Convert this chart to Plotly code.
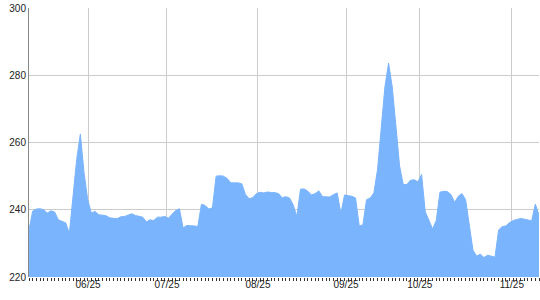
import plotly.graph_objects as go

values = [
    234.0, 239.6, 240.2, 240.3, 240.0, 239.0, 239.7, 239.3, 237.0, 236.6,
    236.1, 233.0, 245.0, 255.0, 262.5, 251.0, 243.0, 239.0, 239.5, 238.5,
    238.4, 238.2, 237.6, 237.4, 237.3, 237.9, 238.0, 238.4, 238.8, 238.3,
    238.0, 237.8, 236.4, 237.0, 236.8, 237.8, 237.8, 238.0, 237.5, 238.6,
    239.8, 240.3, 234.6, 235.3, 235.3, 235.2, 235.0, 241.6, 241.3, 240.2,
    240.6, 250.0, 250.1, 250.0, 249.3, 248.0, 248.0, 248.0, 247.7, 244.5,
    243.3, 243.6, 244.8, 245.2, 245.0, 245.3, 245.1, 245.1, 244.8, 243.6,
    243.9, 243.5, 241.5, 238.0, 246.1, 246.2, 245.5, 244.4, 244.8, 245.6,
    243.9, 243.8, 243.8, 244.5, 245.0, 238.9, 244.4, 244.2, 244.0, 243.5,
    235.2, 235.5, 243.0, 243.5, 245.0, 252.0, 264.0, 276.5, 283.6, 276.5,
    265.0, 253.0, 247.5, 247.5, 248.8, 248.9, 248.3, 250.5, 239.4, 237.0,
    234.3, 236.8, 245.2, 245.5, 245.4, 244.5, 242.2, 244.0, 244.8, 243.0,
    236.0, 228.0, 226.2, 226.8, 225.8, 226.5, 226.2, 225.9, 234.0, 235.0,
    235.2, 236.2, 236.8, 237.1, 237.4, 237.2, 237.0, 236.7, 241.7, 238.4,
]
idx = list(range(len(values)))

tick_pos = [16.1, 37.6, 62.4, 86.4, 106.5, 131.6]
tick_labels = ["06/25", "07/25", "08/25", "09/25", "10/25", "11/25"]
y_ticks = [220, 240, 260, 280, 300]

fig = go.Figure()
fig.add_trace(go.Scatter(
    x=idx, y=values, mode="lines", fill="tozeroy",
    line=dict(color="#7ab4fc", width=1),
    fillcolor="#7ab4fc", hoverinfo="skip",
))

fig.update_layout(
    width=540, height=300,
    margin=dict(l=29, r=1, t=8, b=23),
    paper_bgcolor="white", plot_bgcolor="white",
    showlegend=False,
    font=dict(family="Liberation Sans, Arial, sans-serif", size=10, color="#222"),
)
fig.update_xaxes(
    range=[0, len(values) - 1],
    tickvals=tick_pos, ticktext=tick_labels,
    showgrid=True, gridcolor="#cccccc", gridwidth=1,
    ticks="", zeroline=False, showline=False,
    minor=dict(dtick=1, tick0=0, ticks="outside", ticklen=3, tickcolor="#333", showgrid=False),
    tickfont=dict(size=10, color="#222"),
)
fig.update_yaxes(
    range=[220, 300], tickvals=y_ticks,
    showgrid=True, gridcolor="#cccccc", gridwidth=1,
    showline=True, linecolor="#888888", linewidth=1,
    ticks="", zeroline=False,
    tickfont=dict(size=10, color="#222"),
)

fig.write_html("out.html")
